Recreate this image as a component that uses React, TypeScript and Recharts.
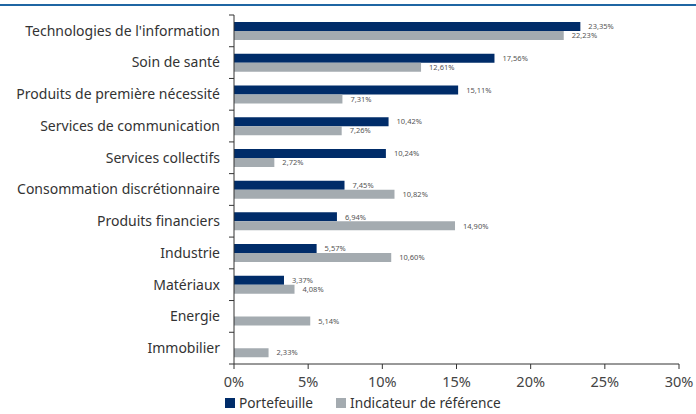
import React from "react";
import { BarChart, Bar, XAxis, YAxis, LabelList, Legend } from "recharts";

const categories = [
  "Technologies de l'information",
  "Soin de santé",
  "Produits de première nécessité",
  "Services de communication",
  "Services collectifs",
  "Consommation discrétionnaire",
  "Produits financiers",
  "Industrie",
  "Matériaux",
  "Energie",
  "Immobilier",
];
const portefeuille: (number | null)[] = [23.35, 17.56, 15.11, 10.42, 10.24, 7.45, 6.94, 5.57, 3.37, null, null];
const indicateur: (number | null)[] = [22.23, 12.61, 7.31, 7.26, 2.72, 10.82, 14.9, 10.6, 4.08, 5.14, 2.33];
const xTicks = [0, 5, 10, 15, 20, 25, 30];
const seriesNames = ["Portefeuille", "Indicateur de référence"];

const data = categories.map((c, i) => ({ name: c, p: portefeuille[i], r: indicateur[i] }));

const DARK = "#002c69";
const GRAY = "#a4abb0";
const FONT = "'Noto Sans', sans-serif";

const fmt = (v: any) => (v == null ? "" : Number(v).toFixed(2).replace(".", ",") + "%");

const YTick = (props: any) => {
  const { x, y, payload, index } = props;
  const half = payload && payload.offset ? payload.offset : 15.9;
  const ax = x + 14;
  return (
    <g>
      <line x1={ax - 5} x2={ax} y1={y - half} y2={y - half} stroke="#333" strokeWidth={1} />
      {index === categories.length - 1 && (
        <line x1={ax - 5} x2={ax} y1={y + half} y2={y + half} stroke="#333" strokeWidth={1} />
      )}
      <text x={x} y={y} dy="0.35em" textAnchor="end" fill="#333" fontSize={14} fontFamily={FONT}>
        {payload.value}
      </text>
    </g>
  );
};

const LegendContent = () => (
  <div style={{ display: "flex", fontFamily: FONT, fontSize: 13.7, color: "#333", lineHeight: "18px" }}>
    {[DARK, GRAY].map((c, i) => (
      <div key={i} style={{ display: "flex", alignItems: "center", marginRight: i === 0 ? 23 : 0 }}>
        <span style={{ display: "inline-block", width: 10, height: 10, background: c, marginRight: 4 }} />
        <span>{seriesNames[i]}</span>
      </div>
    ))}
  </div>
);

export default function App() {
  return (
    <div style={{ position: "absolute", left: 0, top: 0, width: 696, height: 414, background: "#fff" }}>
      <div style={{ position: "absolute", left: 0, top: 4, width: 696, height: 2, background: "#1f66a3" }} />
      <BarChart
        width={696}
        height={414}
        data={data}
        layout="vertical"
        margin={{ top: 15, right: 17, bottom: 0, left: 0 }}
        barGap={0}
      >
        <XAxis
          type="number"
          domain={[0, 30]}
          ticks={xTicks}
          tickFormatter={(v) => v + "%"}
          height={30}
          tickSize={5}
          tickMargin={8}
          stroke="#333"
          tick={{ fill: "#444", fontSize: 14.5, fontFamily: FONT }}
          interval={0}
        />
        <YAxis
          type="category"
          dataKey="name"
          width={234}
          tickLine={false}
          tickSize={5}
          tickMargin={9}
          tick={<YTick />}
          stroke="#333"
          interval={0}
        />
        <Legend
          verticalAlign="bottom"
          align="left"
          height={20}
          wrapperStyle={{ left: 225, bottom: 0 }}
          content={<LegendContent />}
        />
        <Bar dataKey="p" name={seriesNames[0]} fill={DARK} barSize={9} isAnimationActive={false}>
          <LabelList dataKey="p" position="right" offset={8} formatter={fmt} fontSize={7.5} fill="#555" fontFamily={FONT} />
        </Bar>
        <Bar dataKey="r" name={seriesNames[1]} fill={GRAY} barSize={9} isAnimationActive={false}>
          <LabelList dataKey="r" position="right" offset={8} formatter={fmt} fontSize={7.5} fill="#555" fontFamily={FONT} />
        </Bar>
      </BarChart>
    </div>
  );
}
